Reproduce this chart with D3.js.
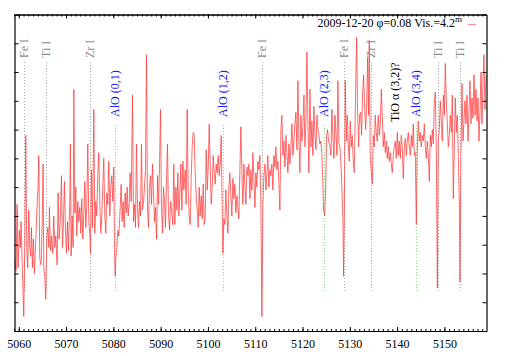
<!DOCTYPE html>
<html>
<head>
<meta charset="utf-8">
<script src="https://cdn.jsdelivr.net/npm/d3@7"></script>
<style>
  body { margin: 0; background: #fff; }
  svg { display: block; }
  text { font-family: "Liberation Serif", "Times New Roman", serif; }
</style>
</head>
<body>
<div id="chart"></div>
<script>
// spectrum (wavelength in A, relative flux)
const wave = [
  5059.15,5059.44,5059.65,5059.86,5060.14,5060.35,5060.49,5060.71,5060.92,5061.06,5061.27,5061.48,5061.69,5061.90,5062.12,5062.33,5062.54,5062.68,5062.89,5063.10,
  5063.31,5063.53,5063.88,5064.09,5064.23,5064.44,5064.72,5064.94,5065.15,5065.29,5065.50,5065.71,5065.92,5066.14,5066.35,5066.49,5066.70,5066.91,5067.19,5067.40,
  5067.62,5067.83,5068.11,5068.32,5068.53,5068.82,5069.03,5069.24,5069.45,5069.66,5069.87,5070.08,5070.30,5070.51,5070.79,5070.93,5071.07,5071.28,5071.50,5071.64,
  5071.85,5072.06,5072.27,5072.48,5072.69,5072.91,5073.12,5073.33,5073.54,5073.75,5073.96,5074.18,5074.39,5074.60,5074.81,5075.02,5075.16,5075.37,5075.59,5075.73,
  5075.87,5076.08,5076.29,5076.50,5076.71,5076.93,5077.14,5077.35,5077.56,5077.77,5077.98,5078.19,5078.41,5078.62,5078.83,5079.04,5079.25,5079.46,5079.68,5079.89,
  5080.10,5080.24,5080.38,5080.52,5080.73,5080.95,5081.16,5081.37,5081.65,5081.86,5082.07,5082.29,5082.50,5082.71,5082.92,5083.13,5083.34,5083.55,5083.77,5084.05,
  5084.26,5084.47,5084.68,5084.89,5085.11,5085.32,5085.53,5085.74,5085.95,5086.16,5086.38,5086.59,5086.80,5087.01,5087.22,5087.43,5087.64,5087.86,5088.07,5088.28,
  5088.49,5088.70,5088.91,5089.13,5089.34,5089.55,5089.76,5089.97,5090.18,5090.40,5090.61,5090.82,5091.03,5091.24,5091.45,5091.66,5091.88,5092.09,5092.30,
  5092.58,5092.79,5093.00,5093.22,5093.43,5093.64,5093.85,5094.06,5094.27,5094.49,5094.70,5094.91,5095.19,5095.40,5095.61,5095.83,5096.04,5096.25,5096.46,5096.67,
  5096.88,5097.09,5097.31,5097.52,5097.73,5097.94,5098.15,5098.36,5098.58,5098.79,5099.00,5099.21,5099.42,5099.63,5099.85,5100.06,5100.27,5100.48,5100.69,5100.90,
  5101.11,5101.33,5101.54,5101.75,5101.96,5102.17,5102.38,5102.60,5102.81,5103.02,5103.16,5103.37,5103.58,5103.79,5104.01,5104.22,5104.43,5104.64,5104.85,5105.06,
  5105.28,5105.49,5105.70,5105.91,5106.12,5106.33,5106.54,5106.76,5106.97,5107.18,5107.39,5107.60,5107.81,5108.03,5108.24,5108.45,5108.66,5108.87,5109.08,5109.30,
  5109.51,5109.72,5109.93,5110.14,5110.35,5110.56,5110.78,5110.99,5111.20,5111.41,5111.62,5111.83,5112.05,5112.26,5112.47,5112.68,5112.89,5113.10,5113.31,5113.53,
  5113.74,5113.95,5114.16,5114.37,5114.58,5114.80,5115.01,5115.22,5115.43,5115.64,5115.85,5116.07,5116.28,5116.49,5116.70,5116.91,5117.12,5117.33,5117.55,5117.76,
  5117.97,5118.18,5118.39,5118.60,5118.82,5119.03,5119.24,5119.45,5119.66,5119.87,5120.08,5120.30,5120.51,5120.72,5120.93,5121.14,5121.35,5121.57,5121.78,5121.99,
  5122.20,5122.41,5122.62,5122.83,5123.05,5123.26,5123.47,5123.68,5123.89,5124.10,5124.32,5124.46,5124.67,5124.88,5125.09,5125.30,5125.51,5125.73,
  5126.00,5126.21,5126.42,5126.64,5126.85,5127.06,5127.27,5127.48,5127.69,5127.91,5128.12,5128.33,5128.54,5128.68,5128.82,5129.03,5129.25,5129.46,5129.67,5129.88,
  5130.09,5130.30,5130.51,5130.73,5130.94,5131.15,5131.43,5131.64,5131.86,5132.07,5132.28,5132.49,5132.70,5132.91,5133.12,5133.34,5133.55,5133.76,5133.97,5134.11,
  5134.32,5134.54,5134.75,5134.96,5135.17,5135.38,5135.59,5135.80,5136.02,5136.23,5136.44,5136.65,5136.86,5137.07,5137.29,5137.50,5137.71,5137.92,5138.13,5138.34,
  5138.55,5138.77,5138.98,5139.19,5139.40,5139.61,5139.82,5140.04,5140.25,5140.46,5140.67,5140.88,5141.09,5141.30,5141.52,5141.73,5141.94,5142.15,5142.36,5142.57,
  5142.79,5143.00,5143.21,5143.42,5143.63,5143.84,5144.06,5144.27,5144.48,5144.69,5144.90,5145.11,5145.32,5145.54,5145.75,5145.96,5146.17,5146.38,5146.59,5146.81,
  5147.02,5147.23,5147.44,5147.65,5147.86,5148.07,5148.29,5148.50,5148.71,5148.92,5149.13,5149.34,5149.56,5149.77,5149.98,5150.19,5150.40,5150.61,5150.82,5151.04,
  5151.25,5151.46,5151.67,5151.88,5152.09,5152.31,5152.52,5152.73,5152.94,5153.15,5153.29,5153.50,5153.72,5153.93,5154.14,5154.35,5154.56,5154.77,5154.99,5155.20,
  5155.41,5155.62,5155.83,5156.04,5156.26,5156.47,5156.68,5156.89,5157.10,5157.31,5157.53,5157.74,5157.95,5158.16,5158.37,5158.58,5158.79
];
const flux = [
  0.25,0.21,0.44,0.22,0.35,0.29,0.38,0.25,0.13,0.05,0.29,0.68,0.29,0.22,0.42,0.29,0.26,0.36,0.22,0.32,
  0.20,0.29,0.44,0.50,0.61,0.25,0.23,0.36,0.58,0.22,0.19,0.11,0.32,0.36,0.29,0.43,0.28,0.33,0.27,0.40,
  0.29,0.33,0.23,0.48,0.32,0.40,0.54,0.29,0.38,0.52,0.36,0.27,0.38,0.28,0.45,0.65,0.26,0.40,0.29,0.84,
  0.41,0.50,0.33,0.45,0.38,0.43,0.34,0.46,0.32,0.40,0.52,0.36,0.44,0.65,0.38,0.34,0.27,0.56,0.36,0.56,
  0.77,0.34,0.45,0.40,0.54,0.62,0.44,0.34,0.40,0.50,0.60,0.40,0.34,0.48,0.44,0.59,0.40,0.50,0.54,0.45,
  0.57,0.29,0.19,0.25,0.29,0.35,0.33,0.40,0.51,0.38,0.45,0.36,0.48,0.41,0.50,0.40,0.44,0.55,0.45,0.82,
  0.38,0.44,0.36,0.65,0.43,0.36,0.45,0.40,0.65,0.42,0.45,0.50,0.56,0.96,0.42,0.36,0.50,0.54,0.44,0.58,
  0.48,0.38,0.43,0.32,0.54,0.44,0.57,0.77,0.43,0.34,0.50,0.45,0.36,0.52,0.65,0.41,0.35,0.45,0.42,
  0.37,0.58,0.37,0.50,0.42,0.55,0.40,0.47,0.58,0.42,0.59,0.49,0.56,0.44,0.77,0.49,0.40,0.37,0.53,0.64,
  0.69,0.68,0.55,0.47,0.42,0.36,0.50,0.40,0.47,0.39,0.51,0.37,0.39,0.63,0.49,0.57,0.72,0.58,0.44,0.50,
  0.61,0.55,0.51,0.58,0.55,0.61,0.54,0.58,0.68,0.44,0.27,0.39,0.37,0.49,0.40,0.34,0.50,0.55,0.47,0.40,
  0.53,0.46,0.51,0.41,0.47,0.43,0.39,0.56,0.71,0.55,0.44,0.58,0.51,0.44,0.57,0.54,0.58,0.46,0.56,0.49,
  0.62,0.53,0.43,0.55,0.50,0.59,0.56,0.61,0.44,0.05,0.44,0.54,0.58,0.49,0.55,0.61,0.50,0.56,0.54,0.58,
  0.49,0.61,0.57,0.64,0.56,0.59,0.51,0.42,0.70,0.75,0.61,0.66,0.57,0.68,0.62,0.55,0.65,0.58,0.64,0.72,
  0.61,0.66,0.72,0.76,0.63,0.87,0.66,0.55,0.75,0.66,0.71,0.82,0.64,0.73,0.97,0.72,0.55,0.84,0.64,0.73,
  0.61,0.78,0.69,0.63,0.75,0.70,0.68,0.65,0.66,0.61,0.50,0.42,0.40,0.48,0.68,0.70,0.66,0.65,
  0.61,0.77,0.68,0.60,0.75,0.69,0.61,0.87,0.65,0.64,0.58,0.50,0.39,0.19,0.38,0.87,0.66,0.75,0.65,0.59,
  0.73,0.64,0.68,0.59,0.55,0.75,1.02,0.77,0.64,0.75,0.76,0.68,0.82,0.89,0.79,0.70,0.77,0.95,0.75,1.01,
  0.61,0.55,0.51,0.68,0.64,0.75,0.69,0.66,0.75,0.68,0.72,0.84,0.75,0.64,0.69,0.62,0.66,0.60,0.64,0.59,
  0.62,0.58,0.55,0.61,0.64,0.66,0.60,0.69,0.61,0.66,0.60,0.68,0.64,0.53,0.64,0.67,0.61,0.66,0.69,0.64,
  0.61,0.68,0.64,0.72,0.61,0.62,0.37,0.64,0.73,0.66,0.69,0.64,0.68,0.66,0.72,0.64,0.60,0.66,0.61,0.52,
  0.68,0.64,0.70,0.65,0.79,0.83,0.64,0.15,0.66,0.70,0.80,0.73,0.66,0.82,0.75,0.93,0.80,0.73,0.64,0.68,
  0.75,0.69,0.82,0.46,0.64,0.81,0.69,0.75,0.61,0.45,0.17,0.61,0.86,0.66,0.73,0.80,0.72,0.82,0.66,0.76,
  0.87,0.72,0.81,0.74,0.89,0.75,0.84,0.73,0.81,0.66,0.76,0.90,0.72,0.87,0.96,0.77,0.89
];

// atomic lines (gray) and molecular bands
const atomWave = [5061.1, 5065.7, 5075.1, 5111.4, 5128.75, 5134.5, 5148.6, 5153.3];
const atomName = ["Fe I", "Ti I", "Zr I", "Fe I", "Fe I", "Zr I", "Ti I", "Ti I"];
const aloWave = [5080.35, 5103.2, 5124.45, 5144.05];
const aloName = ["AlO (0,1)", "AlO (1,2)", "AlO (2,3)", "AlO (3,4)"];
const tioWave = [5139.5];
const tioName = ["TiO \u03b1 (3,2)?"];

const xMajor = [5060, 5070, 5080, 5090, 5100, 5110, 5120, 5130, 5140, 5150];
const yTicks = [0, 0.1, 0.2, 0.3, 0.4, 0.5, 0.6, 0.7, 0.8, 0.9, 1.0, 1.1];

const legendText = "2009-12-20 \u03c6=0.08 Vis.=4.2";

const width = 509, height = 356;
const margin = {left: 14.5, right: 22.5, top: 14.5, bottom: 25};

const svg = d3.select("#chart").append("svg")
    .attr("width", width)
    .attr("height", height);

const x = d3.scaleLinear().domain([5059.1, 5158.9]).range([margin.left, width - margin.right]);
const y = d3.scaleLinear().domain([0, 1.1]).range([height - margin.bottom, margin.top]);

const data = wave.map((w, i) => ({w: w, f: flux[i]}));

// dotted marker lines
svg.append("g").selectAll("line")
    .data(atomWave)
    .enter().append("line")
    .attr("x1", d => Math.round(x(d)) + 0.5).attr("x2", d => Math.round(x(d)) + 0.5)
    .attr("y1", 62).attr("y2", 293)
    .attr("stroke", "#a8a8a8").attr("stroke-width", 1)
    .attr("stroke-dasharray", "1,2");

svg.append("g").selectAll("line")
    .data(aloWave)
    .enter().append("line")
    .attr("x1", d => Math.round(x(d)) + 0.5).attr("x2", d => Math.round(x(d)) + 0.5)
    .attr("y1", 125).attr("y2", 293)
    .attr("stroke", "#7ee07e").attr("stroke-width", 1)
    .attr("stroke-dasharray", "1,2");

// spectrum
const line = d3.line().x(d => x(d.w)).y(d => y(d.f));
svg.append("path")
    .datum(data)
    .attr("fill", "none")
    .attr("stroke", "#ff3a3a")
    .attr("stroke-width", 0.75)
    .attr("stroke-linejoin", "round")
    .attr("d", line);

// labels
function addLabels(waves, names, bottom, color) {
    svg.append("g").selectAll("text")
        .data(waves)
        .enter().append("text")
        .attr("transform", d => `translate(${x(d)},${bottom}) rotate(-90)`)
        .attr("dy", "0.35em")
        .attr("font-size", 12)
        .attr("fill", color)
        .text((d, i) => names[i]);
}
addLabels(atomWave, atomName, 58, "#8c8c8c");
addLabels(aloWave, aloName, 117, "#1a1aff");
addLabels(tioWave, tioName, 122, "#000");

// axes with inward ticks
const minor = d3.range(5059, 5159, 1);
const frame = svg.append("g");

function styleAxis(g) {
    g.selectAll("path, line").attr("stroke", "#000");
    g.select(".domain").attr("stroke-width", 1.2);
}

frame.append("g")
    .attr("transform", `translate(0,${height - margin.bottom})`)
    .call(d3.axisBottom(x).tickValues(minor).tickSize(-2).tickSizeOuter(0).tickFormat(""))
    .call(styleAxis);
frame.append("g")
    .attr("transform", `translate(0,${height - margin.bottom})`)
    .call(d3.axisBottom(x).tickValues(xMajor).tickSize(-4).tickSizeOuter(0).tickPadding(8.5).tickFormat(d3.format("d")))
    .call(styleAxis)
    .call(g => g.selectAll("text").attr("font-size", 12).attr("fill", "#000")
        .attr("font-family", "'Liberation Serif', 'Times New Roman', serif"));

frame.append("g")
    .attr("transform", `translate(0,${margin.top})`)
    .call(d3.axisTop(x).tickValues(minor).tickSize(-2).tickSizeOuter(0).tickFormat(""))
    .call(styleAxis);
frame.append("g")
    .attr("transform", `translate(0,${margin.top})`)
    .call(d3.axisTop(x).tickValues(xMajor).tickSize(-4).tickSizeOuter(0).tickFormat(""))
    .call(styleAxis);

frame.append("g")
    .attr("transform", `translate(${margin.left},0)`)
    .call(d3.axisLeft(y).tickValues(yTicks).tickSize(-4).tickSizeOuter(0).tickFormat(""))
    .call(styleAxis);
frame.append("g")
    .attr("transform", `translate(${width - margin.right},0)`)
    .call(d3.axisRight(y).tickValues(yTicks).tickSize(-4).tickSizeOuter(0).tickFormat(""))
    .call(styleAxis);

// legend
const leg = svg.append("text")
    .attr("x", 462).attr("y", 27)
    .attr("text-anchor", "end")
    .attr("font-size", 12)
    .attr("fill", "#000");
leg.append("tspan").text(legendText);
leg.append("tspan").attr("dy", -5).attr("font-size", 9).text("m");

svg.append("line")
    .attr("x1", 468).attr("x2", 476)
    .attr("y1", 24.5).attr("y2", 24.5)
    .attr("stroke", "#ff8a8a").attr("stroke-width", 1);
</script>
</body>
</html>
